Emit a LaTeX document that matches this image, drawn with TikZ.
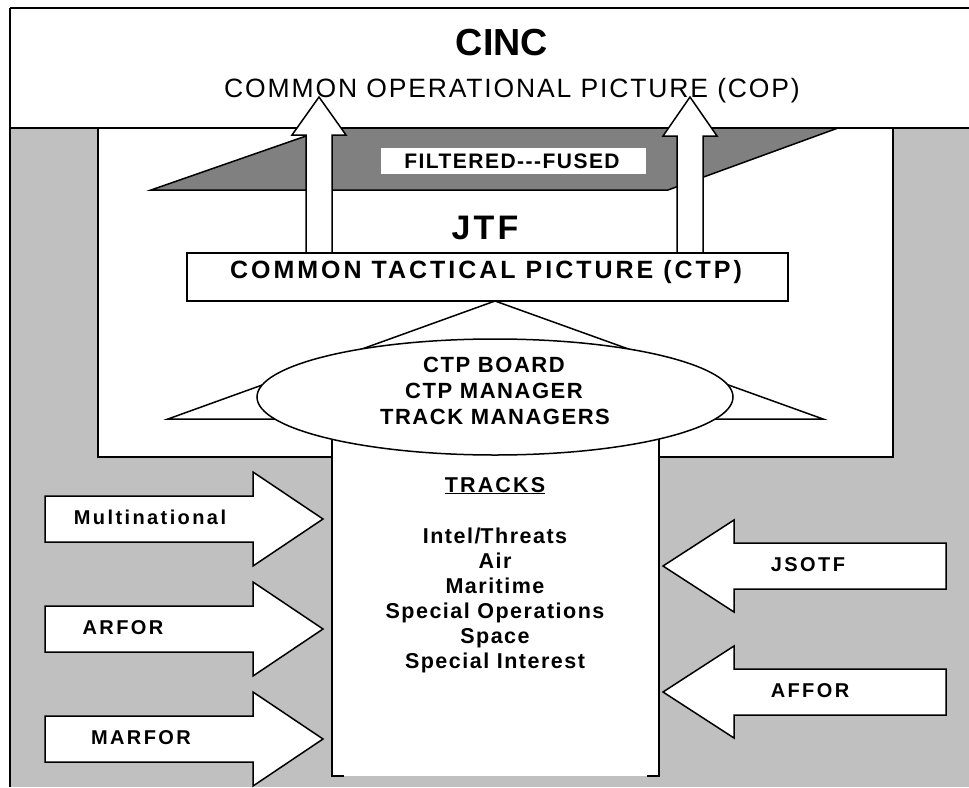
\documentclass[tikz,border=0pt]{standalone}
\usepackage{fontspec}
\setmainfont{Liberation Sans}
\usetikzlibrary{shapes.geometric}

\definecolor{panelgray}{HTML}{C0C0C0}
\definecolor{wedgegray}{HTML}{808080}

% letter spacing helper
\newcommand{\spaced}[1]{\addfontfeature{LetterSpace=#1}}

\begin{document}
\begin{tikzpicture}[x=1pt, y=-1pt, line join=miter,
  frameline/.style={draw=black, line width=2.5pt},
  shapeline/.style={draw=black, line width=1.5pt},
  blockarrow/.style={shapeline, fill=white},
  txt/.style={inner sep=0pt, anchor=base},
  sidelabel/.style={txt, font=\bfseries\fontsize{20}{24}\selectfont\spaced{12}},
  tracklabel/.style={txt, font=\bfseries\fontsize{21.5}{25}\selectfont\spaced{7}},
  mgmtlabel/.style={txt, font=\bfseries\fontsize{22}{26}\selectfont\spaced{7}},
]
\useasboundingbox (0,0) rectangle (969,787);

% backgrounds
\fill[panelgray] (10,128) rectangle (969,787);
\fill[white] (10,8) rectangle (969,128);

% JTF area
\draw[fill=white, line width=2pt] (98,128) rectangle (893,457);

% filtered / fused band
\draw[shapeline, fill=wedgegray] (151,190) -- (329,128) -- (838,128) -- (668,190) -- cycle;

% frame lines
\draw[frameline] (10,128) -- (969,128);
\draw[frameline] (10,8) -- (969,8);
\draw[frameline] (10,8) -- (10,787);

% filtered-fused label box
\fill[white] (381,148) rectangle (646,174);
\node[txt, font=\bfseries\fontsize{21}{25}\selectfont\spaced{7}] (fused) at (512,168) {FILTERED-{}-{}-FUSED};

% upward block arrows from CTP to COP
\draw[blockarrow] (306,253) -- (306,135) -- (292,135) -- (319,97) -- (346,135) -- (332,135) -- (332,253) -- cycle;
\draw[blockarrow] (677,253) -- (677,136) -- (663,136) -- (690,97) -- (717,136) -- (703,136) -- (703,253) -- cycle;

% CTP box
\draw[shapeline, fill=white] (187,253) rectangle (788,301);
\node[txt, font=\bfseries\fontsize{25}{30}\selectfont\spaced{12}] (ctp) at (486,278) {COMMON TACTICAL PICTURE (CTP)};

% fan triangle behind the management ellipse
\draw[shapeline, fill=white] (495,301) -- (168,419) -- (823,419) -- cycle;

% tracks column
\fill[white] (332,420) rectangle (659,776);
\draw[shapeline] (332,420) -- (332,776) -- (344,776);
\draw[shapeline] (647,776) -- (659,776) -- (659,420);

% management ellipse
\node[ellipse, shapeline, fill=white, minimum width=476pt, minimum height=116pt, inner sep=0pt] (mgmt) at (495,397) {};
\node[mgmtlabel] (board) at (494,372) {CTP BOARD};
\node[mgmtlabel] (manager) at (494,398) {CTP MANAGER};
\node[mgmtlabel] (trackmgr) at (495,424) {TRACK MANAGERS};

% headings
\node[txt, font=\bfseries\fontsize{37.7}{44}\selectfont] (cinc) at (502,55) {CINC};
\node[txt, font=\fontsize{26.5}{32}\selectfont\spaced{7}] (cop) at (512,97) {COMMON OPERATIONAL PICTURE (COP)};
\node[txt, font=\bfseries\fontsize{34}{40}\selectfont\spaced{9}] (jtf) at (485,239) {JTF};

% track list
\node[tracklabel, font=\bfseries\fontsize{21.5}{25}\selectfont\spaced{10}] (tracks) at (495,492) {\underline{TRACKS}};
\foreach \name/\t/\yb in {intel/Intel\slash Threats/543, air/Air/568, mar/Maritime/593,
    specops/Special Operations/618, space/Space/643, specint/Special Interest/668}
  \node[tracklabel] (\name) at (495,\yb) {\t};

% inbound block arrows from the left
\foreach \t in {519,629,739}
  \draw[blockarrow] (45,\t-23) -- (253,\t-23) -- (253,\t-47) -- (323,\t)
    -- (253,\t+47) -- (253,\t+23) -- (45,\t+23) -- cycle;
\node[sidelabel] (multi) at (150,524) {Multinational};
\node[sidelabel] (arfor) at (123,634) {ARFOR};
\node[sidelabel] (marfor) at (141,744) {MARFOR};

% inbound block arrows from the right
\foreach \t in {566,692}
  \draw[blockarrow] (663,\t) -- (734,\t-46) -- (734,\t-23) -- (946,\t-23)
    -- (946,\t+23) -- (734,\t+23) -- (734,\t+46) -- cycle;
\node[sidelabel] (jsotf) at (808,571) {JSOTF};
\node[sidelabel] (affor) at (810,697) {AFFOR};
\end{tikzpicture}
\end{document}
